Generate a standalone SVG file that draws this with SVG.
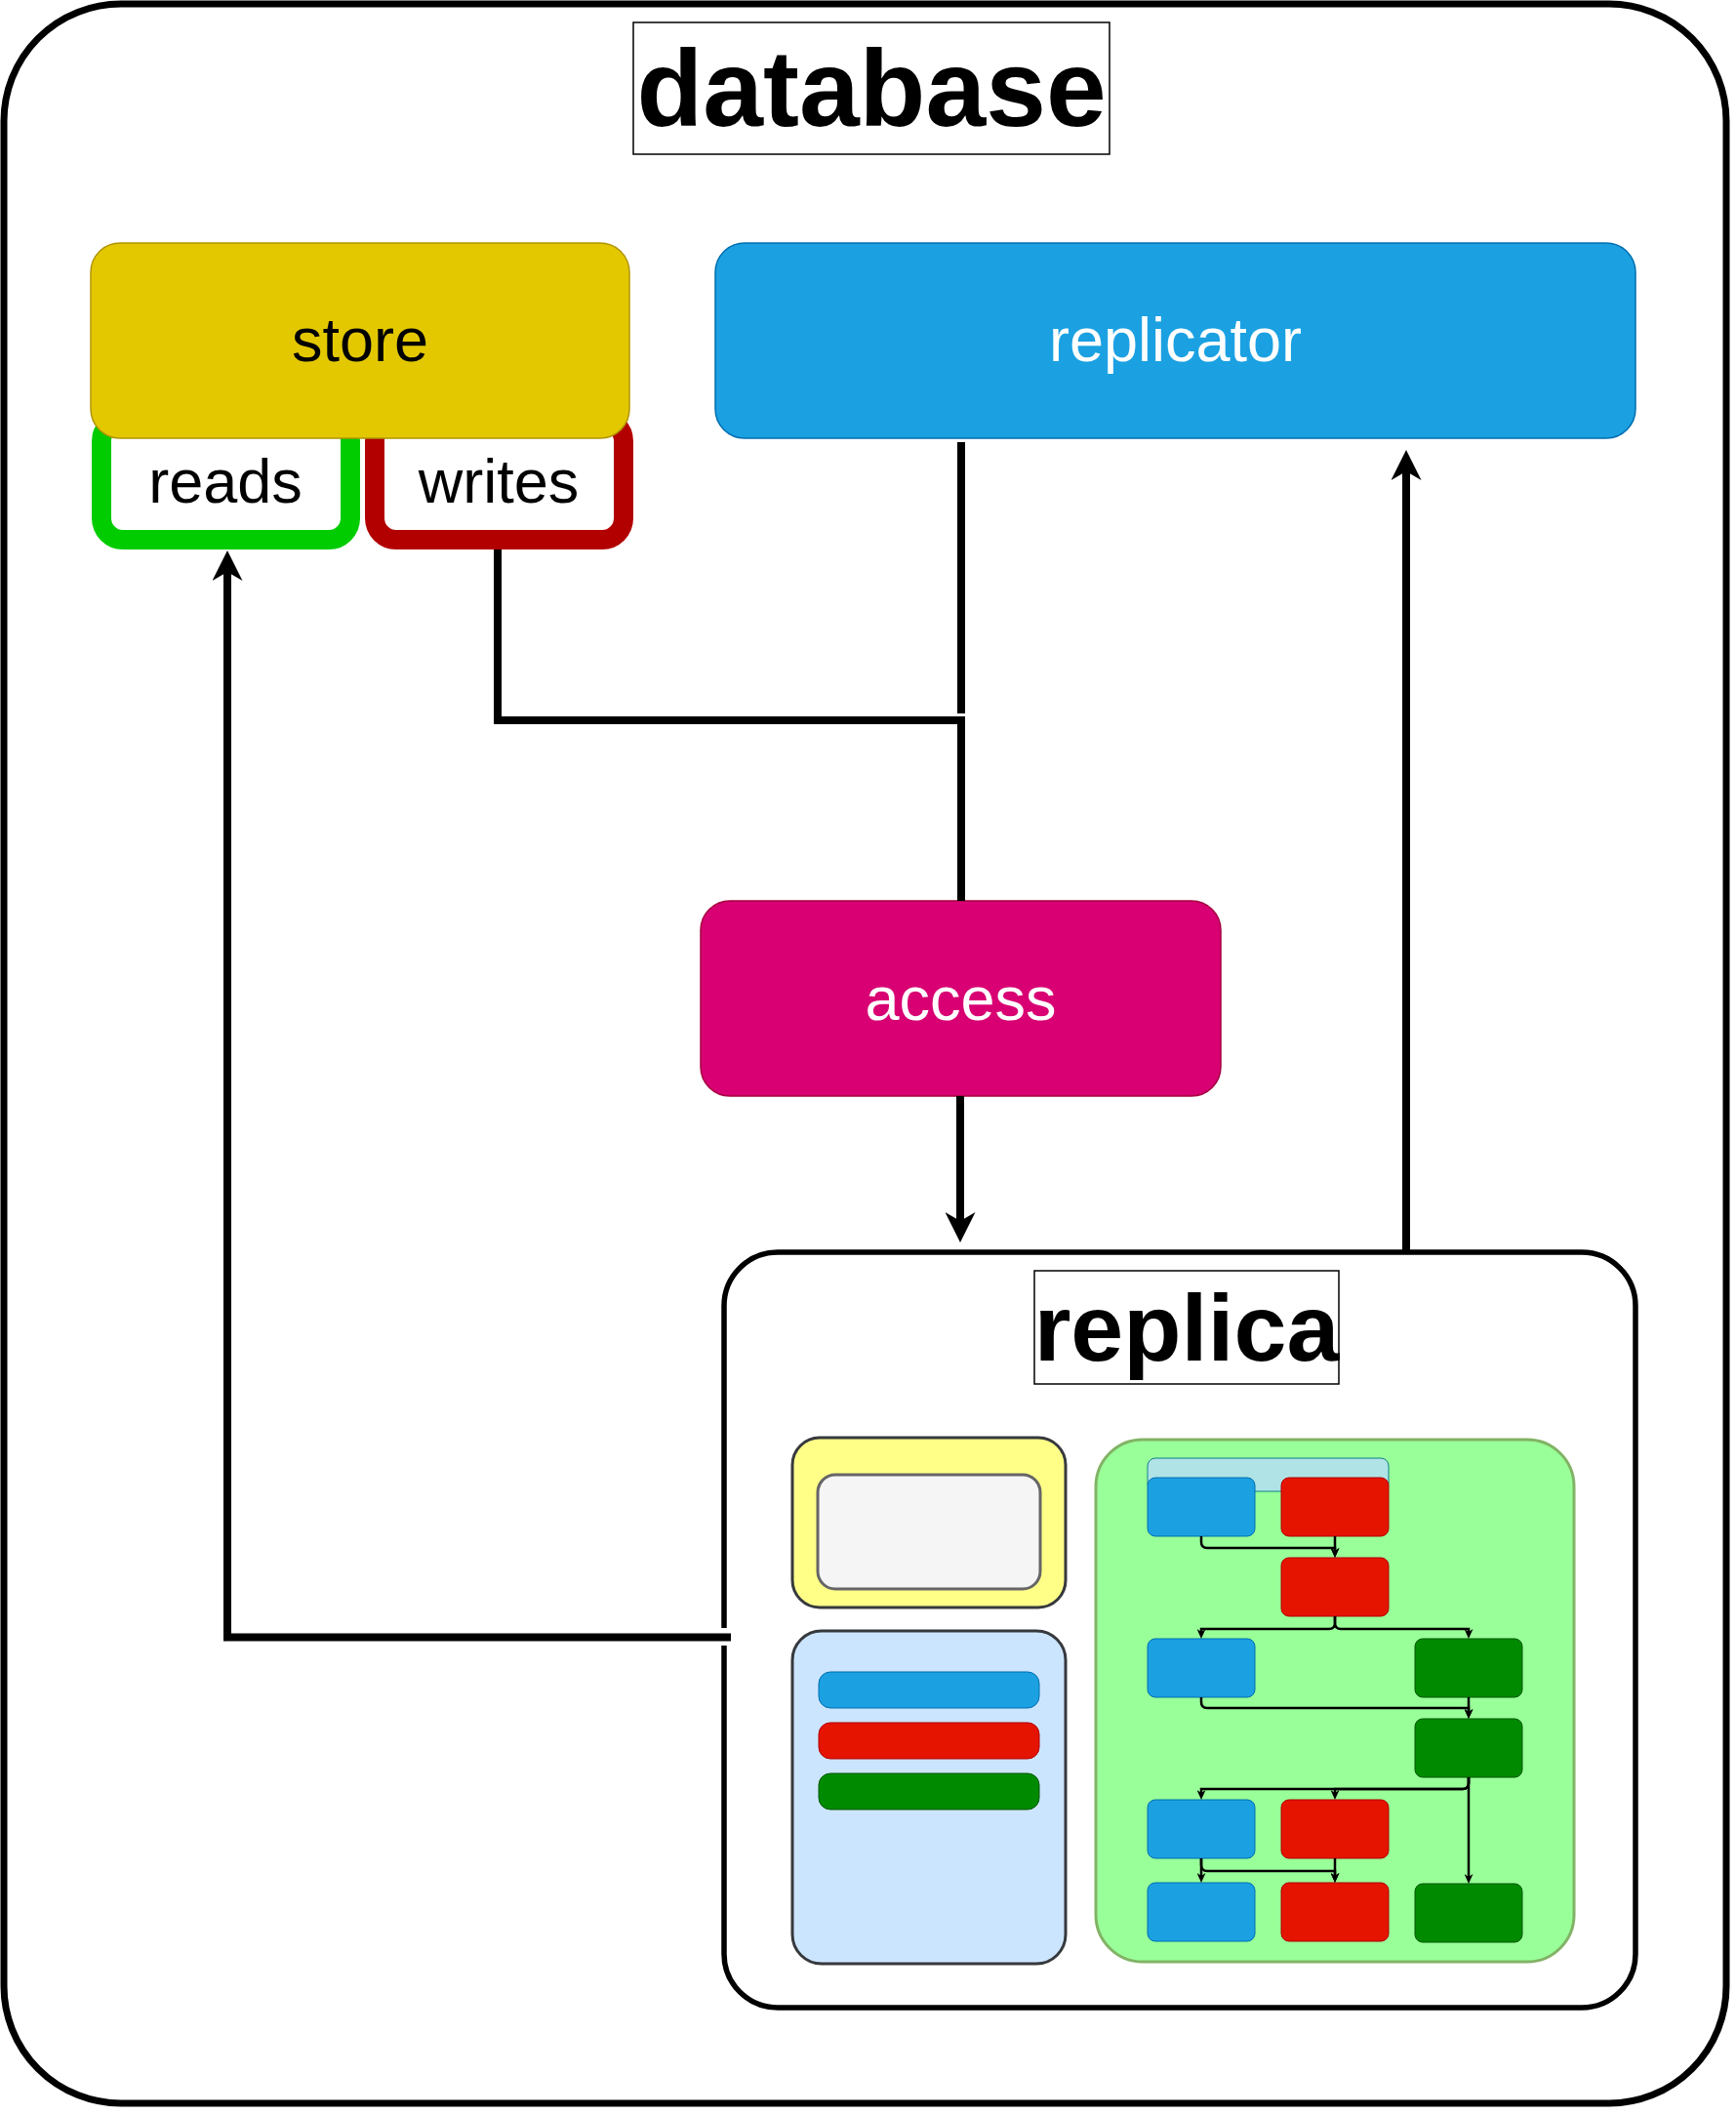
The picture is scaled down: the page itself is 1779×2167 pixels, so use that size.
<svg xmlns="http://www.w3.org/2000/svg" width="1779" height="2167" viewBox="0 0 1779 2167">
<style>
.lbl{font-family:"Liberation Sans",Arial,sans-serif;font-size:63px;text-anchor:middle}
.ttl{font-family:"Liberation Sans",Arial,sans-serif;font-weight:bold;text-anchor:middle}
.conn{fill:none;stroke:#000;stroke-width:8}
.mini{fill:none;stroke:#000;stroke-width:2.5}
.b{fill:#1ba1e2;stroke:#006eaf;stroke-width:1}
.r{fill:#e51400;stroke:#b20000;stroke-width:1}
.g{fill:#008a00;stroke:#005700;stroke-width:1}
</style>
<defs>
<marker id="big" markerUnits="userSpaceOnUse" viewBox="0 0 31 31" markerWidth="31" markerHeight="31" refX="9" refY="15.5" orient="auto">
<path d="M0,0 L31,15.5 L0,31 L9,15.5 Z" fill="#000"/>
</marker>
<marker id="sm" markerUnits="userSpaceOnUse" viewBox="0 0 10 9" markerWidth="10" markerHeight="9" refX="3" refY="4.5" orient="auto">
<path d="M0,0 L10,4.5 L0,9 L3,4.5 Z" fill="#000"/>
</marker>
</defs>
<rect width="1779" height="2167" fill="#fff"/>

<g id="database">
<rect x="4" y="4" width="1765" height="2151" rx="120" fill="#fff" stroke="#000" stroke-width="7"/>
<rect x="649" y="23" width="488" height="135" fill="#fff" stroke="#000" stroke-width="1.5"/>
<text class="ttl" x="893" y="129" font-size="111">database</text>
</g>

<g id="reads">
<rect x="104" y="430" width="255" height="123" rx="22" fill="#fff" stroke="#00cc00" stroke-width="20"/>
<text class="lbl" x="231" y="515">reads</text>
</g>
<g id="writes">
<rect x="384" y="430" width="255" height="123" rx="22" fill="#fff" stroke="#b20000" stroke-width="20"/>
<text class="lbl" x="511" y="515">writes</text>
</g>
<g id="store">
<rect x="93" y="249" width="552" height="200" rx="30" fill="#e3c800" stroke="#b09500" stroke-width="1.5"/>
<text class="lbl" x="369" y="370">store</text>
</g>

<g id="replicator">
<rect x="733" y="249" width="943" height="200" rx="30" fill="#1ba1e2" stroke="#006eaf" stroke-width="1.5"/>
<text class="lbl" x="1204.5" y="370" fill="#fff">replicator</text>
</g>

<g id="access">
<rect x="718" y="923" width="533" height="200" rx="30" fill="#d80073" stroke="#a50040" stroke-width="1.5"/>
<text class="lbl" x="984.5" y="1045" fill="#fff">access</text>
</g>

<g id="replica">
<rect x="742" y="1283" width="934" height="774" rx="55" fill="#fff" stroke="#000" stroke-width="5.5"/>
<rect x="1060" y="1302" width="312" height="116" fill="#fff" stroke="#000" stroke-width="1.5"/>
<text class="ttl" x="1216" y="1394" font-size="97">replica</text>
</g>

<g id="replica-left">
<rect x="812" y="1473" width="280" height="174" rx="28" fill="#ffff88" stroke="#36393d" stroke-width="3"/>
<rect x="838" y="1511" width="228" height="117" rx="18" fill="#f5f5f5" stroke="#666666" stroke-width="3"/>
<rect x="812" y="1671" width="280" height="341" rx="30" fill="#cce5ff" stroke="#36393d" stroke-width="3"/>
<rect class="b" x="839" y="1713" width="226" height="37" rx="12"/>
<rect class="r" x="839" y="1765" width="226" height="37" rx="12"/>
<rect class="g" x="839" y="1817" width="226" height="37" rx="12"/>
</g>

<g id="replica-right">
<rect x="1123" y="1475" width="490" height="535" rx="48" fill="#99ff99" stroke="#82b366" stroke-width="3"/>
<rect x="1176" y="1494" width="247" height="34" rx="8" fill="#b0e3e6" stroke="#0e8088" stroke-width="1"/>
<rect class="b" x="1176" y="1514" width="110" height="60" rx="8"/>
<rect class="r" x="1313" y="1514" width="110" height="60" rx="8"/>
<rect class="r" x="1313" y="1596" width="110" height="60" rx="8"/>
<rect class="b" x="1176" y="1679" width="110" height="60" rx="8"/>
<rect class="g" x="1450" y="1679" width="110" height="60" rx="8"/>
<rect class="g" x="1450" y="1761" width="110" height="60" rx="8"/>
<rect class="b" x="1176" y="1844" width="110" height="60" rx="8"/>
<rect class="r" x="1313" y="1844" width="110" height="60" rx="8"/>
<rect class="b" x="1176" y="1929" width="110" height="60" rx="8"/>
<rect class="r" x="1313" y="1929" width="110" height="60" rx="8"/>
<rect class="g" x="1450" y="1930" width="110" height="60" rx="8"/>
</g>

<g id="mini-connectors">
<path class="mini" d="M1231,1574 V1580 Q1231,1586 1237,1586 H1368 V1589" marker-end="url(#sm)"/>
<path class="mini" d="M1368,1574 V1589" marker-end="url(#sm)"/>
<path class="mini" d="M1368,1656 V1663 Q1368,1669 1362,1669 H1231 V1672" marker-end="url(#sm)"/>
<path class="mini" d="M1368,1656 V1663 Q1368,1669 1374,1669 H1505 V1672" marker-end="url(#sm)"/>
<path class="mini" d="M1231,1739 V1744 Q1231,1750 1237,1750 H1505 V1754" marker-end="url(#sm)"/>
<path class="mini" d="M1505,1739 V1754" marker-end="url(#sm)"/>
<path class="mini" d="M1505,1821 V1827 Q1505,1833 1499,1833 H1231 V1837" marker-end="url(#sm)"/>
<path class="mini" d="M1505,1821 V1827 Q1505,1833 1499,1833 H1368 V1837" marker-end="url(#sm)"/>
<path class="mini" d="M1505,1821 V1923" marker-end="url(#sm)"/>
<path class="mini" d="M1231,1904 V1922" marker-end="url(#sm)"/>
<path class="mini" d="M1231,1904 V1911 Q1231,1917 1237,1917 H1368 V1922" marker-end="url(#sm)"/>
<path class="mini" d="M1368,1904 V1922" marker-end="url(#sm)"/>
</g>

<g id="connectors">
<path class="conn" d="M510,563 V738 H985 V923"/>
<path class="conn" d="M985,453 V731"/>
<path class="conn" d="M984,1123 V1251" marker-end="url(#big)"/>
<path class="conn" d="M1441,1281 V483" marker-end="url(#big)"/>
<rect x="737" y="1668" width="13" height="18" fill="#fff"/>
<path class="conn" d="M749,1677.5 H233 V586" marker-end="url(#big)"/>
</g>
</svg>
